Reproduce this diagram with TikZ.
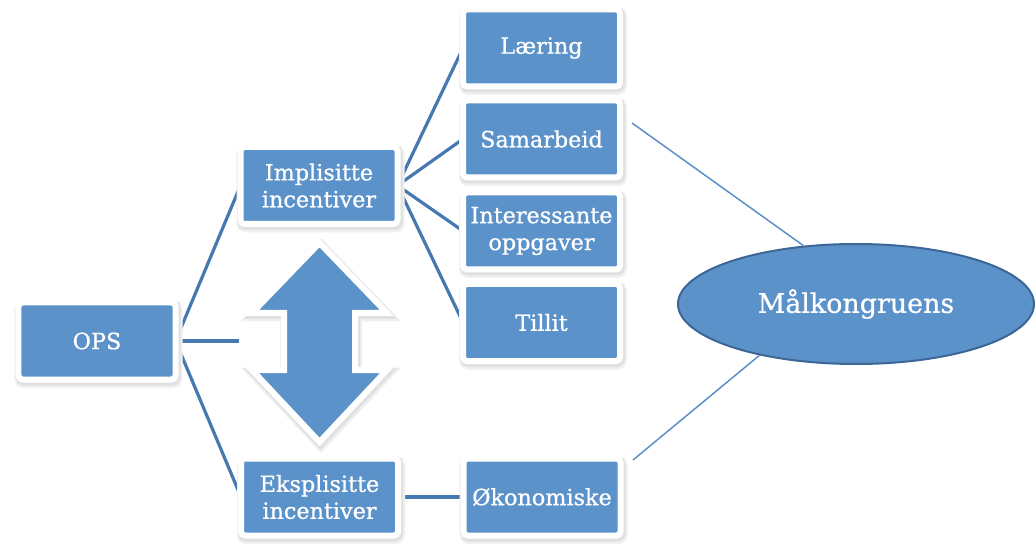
\documentclass[tikz,border=0pt]{standalone}
\usepackage{fontspec}
\setmainfont{DejaVu Serif}
\newfontfamily\labelfont[FakeBold=0.8]{DejaVu Serif}
\usetikzlibrary{shapes.geometric}
\pgfdeclarelayer{background}
\pgfsetlayers{background,main}
\definecolor{boxblue}{RGB}{92,146,202}
\definecolor{linkblue}{RGB}{70,120,178}
\definecolor{thinblue}{RGB}{92,144,200}
\definecolor{rimblue}{RGB}{60,102,150}

\begin{document}
\begin{tikzpicture}[x=1bp,y=-1bp,
  softshadow/.style={
    preaction={draw=black!6,fill=black!6,line width=11bp,transform canvas={xshift=1.5bp,yshift=-3bp}},
    preaction={draw=black!12,fill=black!12,line width=8bp,transform canvas={xshift=1bp,yshift=-2bp}}},
  tbox/.style={rectangle, rounded corners=4bp, fill=boxblue, draw=white,
    line width=6bp, minimum width=157bp, minimum height=77bp, inner sep=0pt,
    outer sep=0pt, text=white, align=center,
    font=\labelfont\fontsize{22.4}{27}\selectfont, softshadow},
  link/.style={draw=linkblue, line width=3.2bp},
  thinlink/.style={draw=thinblue, line width=1.5bp},
  goal/.style={ellipse, fill=boxblue, draw=rimblue, line width=2bp,
    minimum width=356bp, minimum height=120bp, inner sep=0pt, text=white,
    font=\labelfont\fontsize{27}{32}\selectfont}]

\useasboundingbox (0,0) rectangle (1035,544);

% left part of the hierarchy
\node[tbox] (ops)  at (97,341)    {OPS};
\node[tbox] (impl) at (319,185.5) {Implisitte\\incentiver};
\node[tbox] (eksp) at (319.5,497) {Eksplisitte\\incentiver};

% implicit incentives
\node[tbox] (laer) at (541.5,48)    {Læring};
\node[tbox] (sama) at (541.5,139)   {Samarbeid};
\node[tbox] (inte) at (541.5,231)   {Interessante\\oppgaver};
\node[tbox] (till) at (541.5,322.5) {Tillit};

% explicit incentives
\node[tbox] (okon) at (542,497) {Økonomiske};

% two-headed arrow between the incentive types
\path[softshadow, fill=boxblue, draw=white, line width=6bp, line join=miter]
  (319.5,243) -- (387,313) -- (355,313) -- (355,370) -- (387,370)
  -- (319.5,442) -- (252,370) -- (284,370) -- (284,313) -- (252,313) -- cycle;
\coordinate (arrowleft) at (239,341);

% goal congruence
\node[goal] (malk) at (856,304) {Målkongruens};
\coordinate (samaout) at (632,123);
\coordinate (okonout) at (633,460);

\begin{pgfonlayer}{background}
  \fill[white] (0,0) rectangle (1035,544);
  \draw[link] (ops.east) -- (impl.west);
  \draw[link] (ops.east) -- (arrowleft);
  \draw[link] (ops.east) -- (eksp.west);
  \draw[link] (impl.east) -- (laer.west);
  \draw[link] (impl.east) -- (sama.west);
  \draw[link] (impl.east) -- (inte.west);
  \draw[link] (impl.east) -- (till.west);
  \draw[link] (eksp.east) -- (okon.west);
\end{pgfonlayer}

\draw[thinlink] (samaout) -- (malk.132);
\draw[thinlink] (okonout) -- (malk.208);

\end{tikzpicture}
\end{document}
